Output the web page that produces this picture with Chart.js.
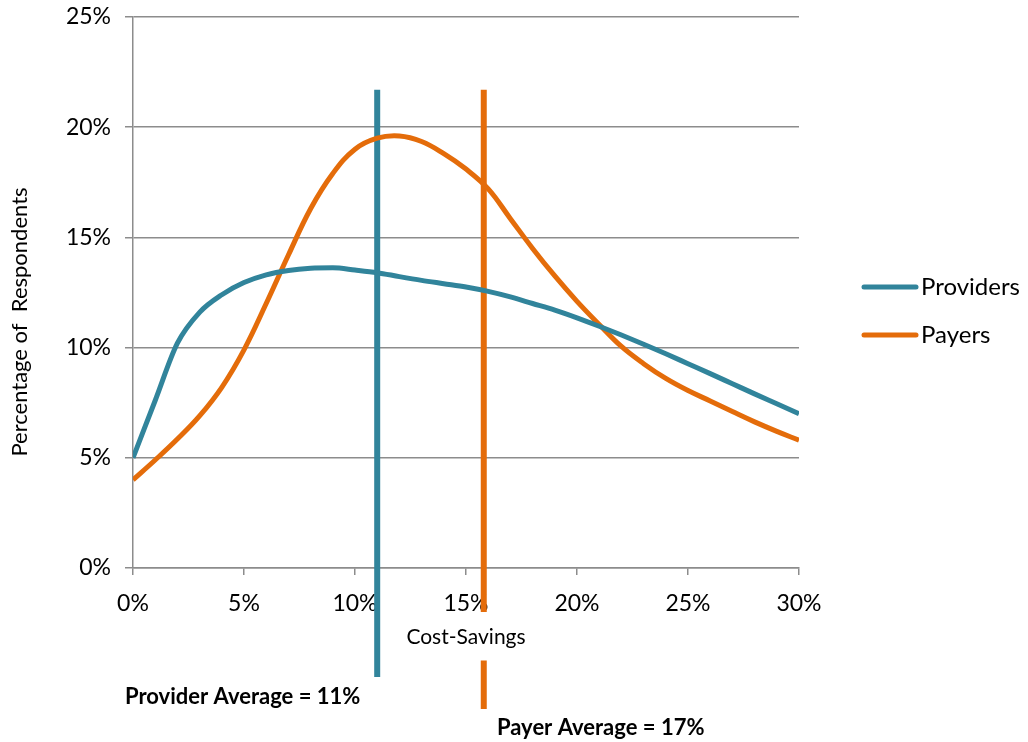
<!DOCTYPE html>
<html>
<head>
<meta charset="utf-8">
<script src="https://cdn.jsdelivr.net/npm/chart.js@4.4.0/dist/chart.umd.min.js"></script>
<style>
  body { margin: 0; background: #fff; }
</style>
</head>
<body>
<canvas id="chart" width="1028" height="742"></canvas>
<script>
const costSavings = [0, 1, 2, 3, 4, 5, 6, 7, 8, 9, 10, 11, 12, 13, 14, 15, 16, 17, 18, 19, 20, 21, 22, 23, 24, 25, 26, 27, 28, 29, 30];
const providers = [5.0, 7.6, 10.2, 11.6, 12.4, 12.95, 13.3, 13.5, 13.6, 13.62, 13.52, 13.4, 13.22, 13.05, 12.9, 12.75, 12.55, 12.3, 12.0, 11.7, 11.35, 10.97, 10.57, 10.15, 9.72, 9.27, 8.82, 8.36, 7.9, 7.45, 7.0];
const payers = [4.0, 4.9, 5.85, 6.9, 8.2, 9.9, 12.0, 14.2, 16.3, 17.9, 19.0, 19.5, 19.6, 19.35, 18.8, 18.1, 17.2, 15.85, 14.5, 13.25, 12.1, 11.05, 10.05, 9.27, 8.6, 8.05, 7.58, 7.1, 6.63, 6.2, 5.8];

// average markers (x position as drawn, y ends of the vertical bars; null = gap)
const providerAvgX = 11;
const providerAvgY = [21.7, -4.95];
const payerAvgX = 15.8;
const payerAvgY = [21.7, -2.0, null, -4.2, -6.4];

const yTicks = [0, 5, 10, 15, 20, 25];
const seriesLabels = ["Providers", "Payers"];
const teal = "#31849B";
const orange = "#E46C0A";
const gridColor = "#8c8c8c";

function toPoints(xs, ys) {
  return ys.map((y, i) => ({ x: Array.isArray(xs) ? xs[i] : xs, y: y }));
}

const extras = {
  id: "extras",
  afterDraw(chart) {
    const ctx = chart.ctx;
    ctx.save();
    // y axis title
    ctx.fillStyle = "#000";
    ctx.font = "22px Lato";
    ctx.textAlign = "center";
    ctx.textBaseline = "middle";
    ctx.translate(20, 322);
    ctx.rotate(-Math.PI / 2);
    ctx.fillText("Percentage of  Respondents", 0, 0);
    ctx.restore();

    // legend
    ctx.save();
    const colors = [teal, orange];
    const legendY = [287, 335];
    seriesLabels.forEach((lbl, i) => {
      ctx.strokeStyle = colors[i];
      ctx.lineWidth = 5;
      ctx.lineCap = "round";
      ctx.beginPath();
      ctx.moveTo(864, legendY[i]);
      ctx.lineTo(916, legendY[i]);
      ctx.stroke();
      ctx.fillStyle = "#000";
      ctx.font = "24px Lato";
      ctx.textAlign = "left";
      ctx.textBaseline = "middle";
      ctx.fillText(lbl, 921, legendY[i]);
    });

    // average labels
    ctx.font = "bold 22px Lato";
    ctx.textAlign = "left";
    ctx.fillText("Provider Average = 11%", 125, 697);
    ctx.fillText("Payer Average = 17%", 497, 728);
    ctx.restore();
  },
};

const ctx = document.getElementById("chart");
new Chart(ctx, {
  type: "line",
  data: {
    datasets: [
      {
        label: seriesLabels[0],
        data: toPoints(costSavings, providers),
        borderColor: teal,
        borderWidth: 5,
        pointRadius: 0,
        tension: 0.4,
        cubicInterpolationMode: "monotone",
      },
      {
        label: seriesLabels[1],
        data: toPoints(costSavings, payers),
        borderColor: orange,
        borderWidth: 5,
        pointRadius: 0,
        tension: 0.4,
      },
      {
        label: "Provider Average",
        data: toPoints(providerAvgX, providerAvgY),
        borderColor: teal,
        borderWidth: 6,
        pointRadius: 0,
        clip: false,
      },
      {
        label: "Payer Average",
        data: toPoints(payerAvgX, payerAvgY),
        borderColor: orange,
        borderWidth: 6,
        pointRadius: 0,
        clip: false,
        spanGaps: false,
      },
    ],
  },
  options: {
    responsive: false,
    animation: false,
    layout: { padding: { top: 17, right: 229, left: 0, bottom: 0 } },
    plugins: {
      legend: { display: false },
      tooltip: { enabled: false },
    },
    scales: {
      x: {
        type: "linear",
        min: 0,
        max: 30,
        afterFit: (s) => { s.height = 174; s.paddingLeft = 0; s.paddingRight = 0; },
        ticks: {
          stepSize: 5,
          padding: 15,
          color: "#000",
          font: { family: "Lato", size: 23 },
          callback: (v) => v + "%",
        },
        grid: { drawOnChartArea: false, tickLength: 7, color: gridColor, lineWidth: 1.5 },
        border: { color: gridColor, width: 1.5 },
        title: {
          display: true,
          text: "Cost-Savings",
          color: "#000",
          font: { family: "Lato", size: 21 },
          padding: { top: 0, bottom: 92 },
        },
      },
      y: {
        min: 0,
        max: 25,
        afterFit: (s) => { s.width = 133; s.paddingTop = 0; s.paddingBottom = 0; },
        afterBuildTicks: (s) => { s.ticks = yTicks.map((v) => ({ value: v })); },
        ticks: {
          padding: 14,
          color: "#000",
          font: { family: "Lato", size: 23 },
          callback: (v) => v + "%",
        },
        grid: { tickLength: 8, color: gridColor, lineWidth: 1.5 },
        border: { color: gridColor, width: 1.5 },
      },
    },
  },
  plugins: [extras],
});
</script>
</body>
</html>
